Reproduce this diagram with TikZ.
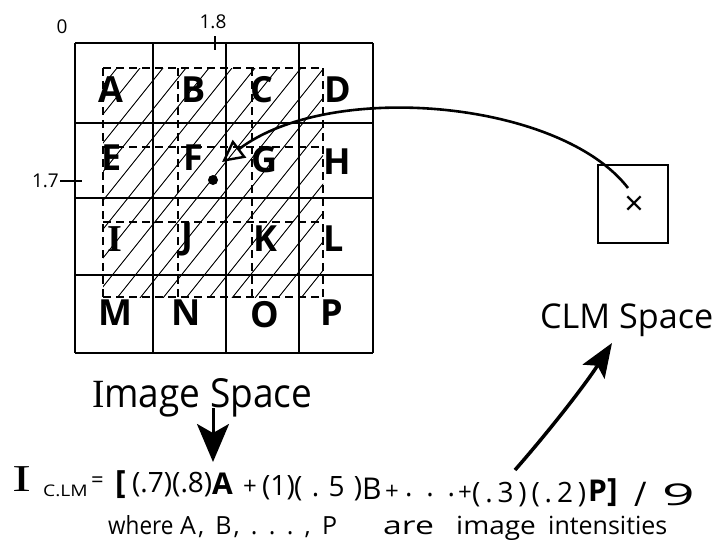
\documentclass[tikz,border=0pt]{standalone}
\usepackage{fontspec}
\setmainfont{Open Sans}
\newfontfamily\serifI{Liberation Serif}
\usetikzlibrary{arrows.meta}
\newcommand\putat[3]{\rlap{\hspace{#1}\raisebox{#2}{#3}}}
\newcommand\fs[1]{\fontsize{#1}{#1}\selectfont}
\begin{document}
\begin{tikzpicture}[x=1pt,y=-1pt,
  gridline/.style={line width=1.5pt},
  dashline/.style={line width=1.3pt, dash pattern=on 8pt off 5pt},
  hatch/.style={line width=0.9pt},
  lett/.style={inner sep=0pt, font=\fs{36}\bfseries},
  small/.style={inner sep=0pt, font=\fs{19}},
  tick/.style={line width=1.3pt},
  bigline/.style={line width=3pt},
]
\useasboundingbox (0,0) rectangle (716,546);
\fill[white] (0,0) rectangle (716,546);

% hatching of the CLM cell
\begin{scope}
  \clip (103,68) rectangle (323,297);
  \foreach \k in {-2,...,19} \draw[hatch] ({137+23*\k},43) -- ++(-240,300);
\end{scope}

% image grid
\foreach \x in {75,153,226,299,373} \draw[gridline] (\x,43) -- (\x,353);
\foreach \y in {43,123,198,275,353} \draw[gridline] (75,\y) -- (373,\y);

% dashed CLM grid
\foreach \x in {103,178,252,323} \draw[dashline] (\x,68) -- (\x,297);
\foreach \y in {68,147,222,297} \draw[dashline] (103,\y) -- (323,\y);

% letters
\node[lett] (A) at (111,90) {A};
\node[lett] (B) at (194,90) {B};
\node[lett] (C) at (262,90) {C};
\node[lett] (D) at (338,90) {D};
\node[lett] (E) at (112,158) {E};
\node[lett] (F) at (193,158) {F};
\node[lett] (G) at (265,160) {G};
\node[lett] (H) at (337,162) {H};
\node[lett] (I) at (115,239) {{\serifI\bfseries\fs{38}I}};
\node[lett] (J) at (187,239) {J};
\node[lett] (K) at (265,239) {K};
\node[lett] (L) at (334,239) {L};
\node[lett] (M) at (115,313) {M};
\node[lett] (N) at (186,313) {N};
\node[lett] (O) at (265,315) {O};
\node[lett] (P) at (332,313) {P};

\node[circle, fill, inner sep=0pt, minimum size=10pt] (dot) at (213,180) {};

% axis labels
\node[small] (l0) at (62,27) {0};
\node[small] (l18) at (213,22) {1.8};
\draw[tick] (215,36) -- (215,50);
\node[small, anchor=east] (l17) at (59,181) {1.7};
\draw[tick] (60,181) -- (82,181);

% CLM space box
\node[draw, line width=1.3pt, minimum width=70pt, minimum height=78pt, inner sep=0pt] (clmbox) at (633,204) {};
\node[inner sep=0pt, font=\fs{34}] (xm) at (634,206) {×};
\coordinate (cs) at (628,188);
\coordinate (tri) at (222,162);
\draw[line width=2.6pt, -{Triangle[open, length=22pt, width=22pt, line width=2.4pt]}]
  (cs) .. controls (560,100) and (330,80) .. (tri);

% texts
\node[anchor=base west, inner sep=0pt] (imgspace) at (92,407)
  {\resizebox{220pt}{29pt}{\fs{40}{\serifI I}mage Space}};
\node[anchor=base west, inner sep=0pt] (clmspace) at (540,328)
  {\resizebox{173pt}{!}{\fs{32}CLM Space}};

% arrows
\coordinate (dtop) at (213,408);
\coordinate (dtip) at (213,462);
\draw[bigline, -{Stealth[length=38pt, width=32pt, inset=9pt]}] (dtop) -- (dtip);
\coordinate (ubot) at (515,470);
\coordinate (utip) at (612,343);
\draw[line width=3.5pt, -{Stealth[length=34pt, width=26pt, inset=7pt]}]
  (ubot) .. controls (550,430) and (585,385) .. (utip);

% formula
\node[anchor=base west, inner sep=0pt, font=\fs{28}] (formula) at (12,493) {%
  \putat{0pt}{2pt}{\scalebox{1.5}[1]{\fs{38}\serifI I}}%
  \putat{31pt}{-3pt}{\scalebox{1.2}[1]{\fs{16}C.LM}}%
  \putat{79pt}{6pt}{\fs{22}=}%
  \putat{103pt}{0pt}{\fs{32}\bfseries [}%
  \putat{120pt}{1pt}{\makebox[80pt][s]{(\hfill.\hfill7\hfill)\hfill(\hfill.\hfill8\hfill)}}%
  \putat{200pt}{-1pt}{\fs{30}\bfseries A}%
  \putat{231pt}{-1pt}{\fs{24}+}%
  \putat{250pt}{-2pt}{(1)}%
  \putat{282pt}{-3pt}{\makebox[68pt][s]{(\hfill.\hfill5\hfill)}}%
  \putat{350pt}{-6pt}{\fs{30}B}%
  \putat{373pt}{-6pt}{\fs{24}+}%
  \putat{393pt}{-3pt}{\makebox[50pt][s]{.\hfill.\hfill.}}%
  \putat{446pt}{-7pt}{\fs{24}+}%
  \putat{460pt}{-9pt}{\makebox[114pt][s]{(\hfill.\hfill3\hfill)\hfill(\hfill.\hfill2\hfill)}}%
  \putat{576pt}{-8pt}{\fs{30}\bfseries P}%
  \putat{595pt}{-8pt}{\fs{32}\bfseries ]}%
  \putat{622pt}{-13pt}{\fs{34}/}%
  \putat{650pt}{-12pt}{\scalebox{1.9}[1]{\fs{30}9}}%
  \hspace*{687pt}};

\node[anchor=base west, inner sep=0pt, font=\fs{25}] (where) at (108,534) {%
  \putat{0pt}{0pt}{\scalebox{0.9}[1]{where}}%
  \putat{72pt}{0pt}{\makebox[157pt][s]{A\hspace{2pt},\hfill B\hspace{2pt},\hfill.\hfill.\hfill.\hfill,\hfill P}}%
  \putat{275pt}{0pt}{\scalebox{1.35}[1]{are}}%
  \putat{348pt}{0pt}{\scalebox{1.12}[1]{image}}%
  \putat{440pt}{0pt}{intensities}%
  \hspace*{560pt}};
\end{tikzpicture}
\end{document}
